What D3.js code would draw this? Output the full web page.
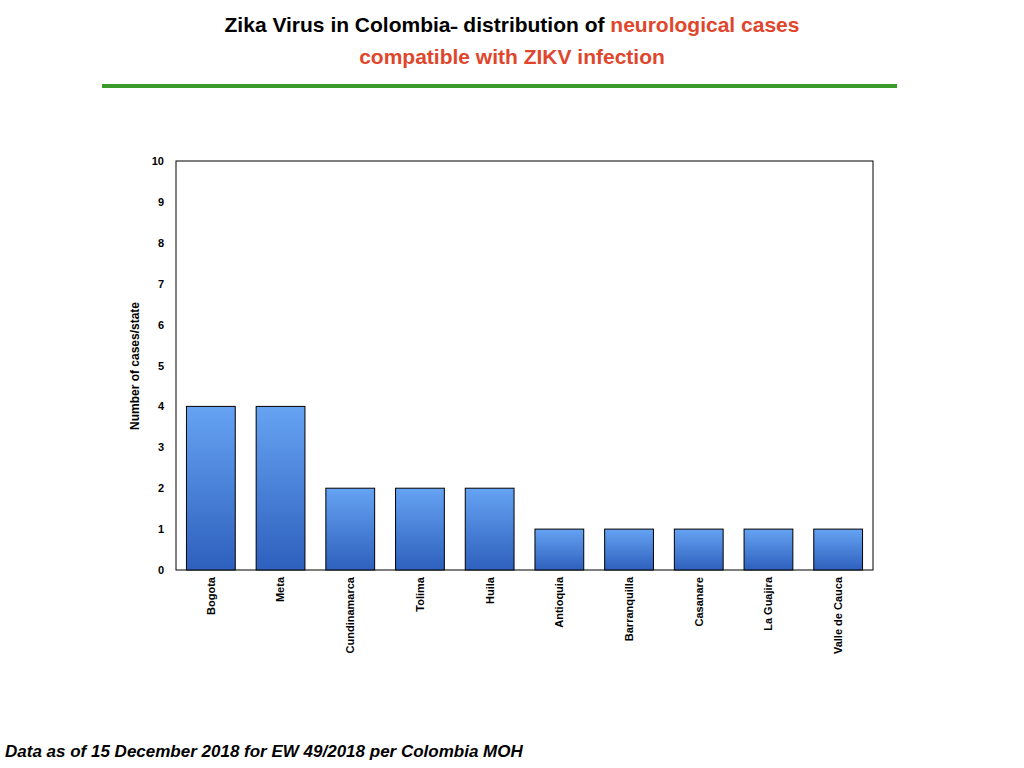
<!DOCTYPE html>
<html><head><meta charset="utf-8">
<script src="https://cdn.jsdelivr.net/npm/d3@7"></script>
<style>body{margin:0;background:#fff;font-family:"Liberation Sans",Arial,sans-serif;}</style>
</head><body>
<svg id="c" width="1024" height="768"></svg>
<script>
const categories = ["Bogota","Meta","Cundinamarca","Tolima","Huila","Antioquia","Barranquilla","Casanare","La Guajira","Valle de Cauca"];
const values = [4,4,2,2,2,1,1,1,1,1];
const yTicks = [0,1,2,3,4,5,6,7,8,9,10];

const svg = d3.select("#c");
const L=176,R=873,T=161,B=570;
const x = d3.scaleBand().domain(categories).range([L,R]).paddingInner(0.3).paddingOuter(0.15);
const y = d3.scaleLinear().domain([0,10]).range([B,T]);

const defs = svg.append("defs");
const g = defs.append("linearGradient").attr("id","bg").attr("x1",0).attr("y1",0).attr("x2",0).attr("y2",1);
g.append("stop").attr("offset","0%").attr("stop-color","#66a3f3");
g.append("stop").attr("offset","100%").attr("stop-color","#2e60bd");

// title
const t1 = svg.append("text").attr("x",512).attr("y",32).attr("text-anchor","middle")
  .attr("font-size",21).attr("font-weight","bold");
t1.append("tspan").attr("fill","#000").text("Zika Virus in Colombia\u02D7 distribution of ");
t1.append("tspan").attr("fill","#e0462c").text("neurological cases");
svg.append("text").attr("x",512).attr("y",64).attr("text-anchor","middle")
  .attr("font-size",21).attr("font-weight","bold").attr("fill","#e0462c").text("compatible with ZIKV infection");
svg.append("line").attr("x1",102).attr("x2",897).attr("y1",86).attr("y2",86).attr("stroke","#3a9a2a").attr("stroke-width",4);

// frame
svg.append("rect").attr("x",L).attr("y",T).attr("width",R-L).attr("height",B-T).attr("fill","none").attr("stroke","#000").attr("stroke-width",1);

// y axis
const ya = svg.append("g").attr("transform",`translate(${L},0)`)
  .call(d3.axisLeft(y).tickValues(yTicks).tickSize(0).tickPadding(12).tickFormat(d3.format("d")));
ya.select(".domain").remove();
ya.selectAll("text").attr("font-size",11).attr("font-weight","bold").attr("font-family","Liberation Sans, Arial");

// x axis
const xa = svg.append("g").attr("transform",`translate(0,${B})`)
  .call(d3.axisBottom(x).tickSize(0));
xa.select(".domain").remove();
xa.selectAll("text").attr("font-size",11).attr("font-weight","bold").attr("font-family","Liberation Sans, Arial")
  .attr("text-anchor","end").attr("transform","rotate(-90)").attr("x",-7).attr("y",0).attr("dy","0.35em");

// bars
svg.append("g").selectAll("rect").data(categories).join("rect")
  .attr("x",d=>x(d)).attr("width",x.bandwidth())
  .attr("y",(d,i)=>y(values[i])).attr("height",(d,i)=>y(0)-y(values[i]))
  .attr("fill","url(#bg)").attr("stroke","#000").attr("stroke-width",1);

svg.append("text").attr("transform","translate(139,366) rotate(-90)").attr("text-anchor","middle")
  .attr("font-size",12).attr("font-weight","bold").text("Number of cases/state");

svg.append("text").attr("x",5).attr("y",757).attr("font-size",17).attr("font-weight","bold").attr("font-style","italic")
  .text("Data as of 15 December 2018 for EW 49/2018 per Colombia MOH");
</script>
</body></html>
